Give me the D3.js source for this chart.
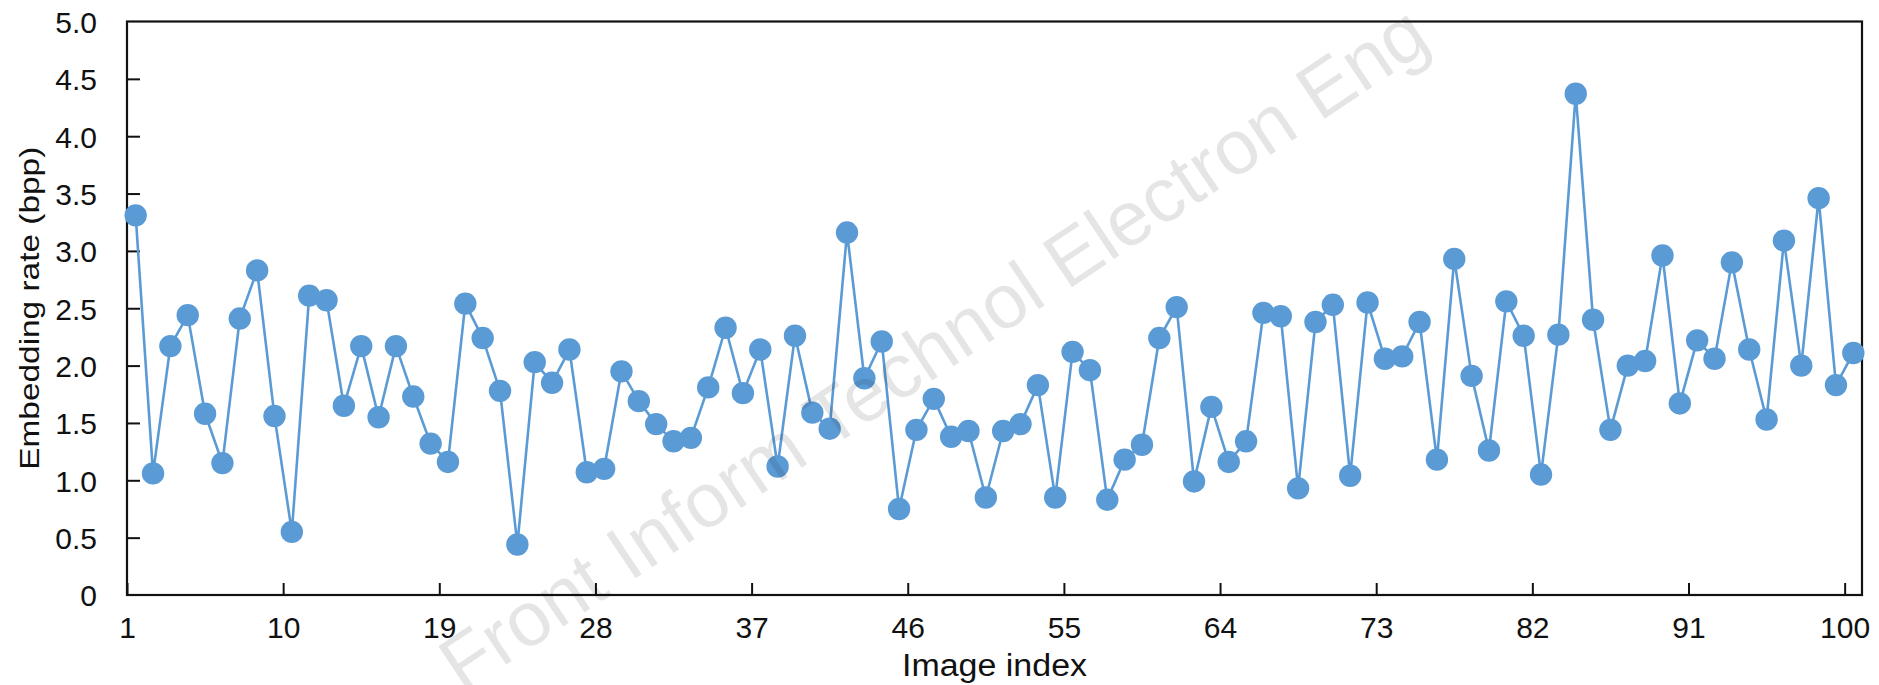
<!DOCTYPE html>
<html>
<head>
<meta charset="utf-8">
<script src="https://cdn.jsdelivr.net/npm/d3@7"></script>
<style>
  html, body { margin: 0; padding: 0; background: #fff; }
  svg { display: block; }
  text { font-family: "Liberation Sans", Arial, sans-serif; fill: #111; }
</style>
</head>
<body>
<svg id="chart" width="1879" height="685"></svg>
<script>
// ---- data ----
const imageIndex = d3.range(1, 101);
const embeddingRate = [
  3.31,1.06,2.17,2.44,1.58,1.15,2.41,2.83,1.56,0.55,
  2.61,2.57,1.65,2.17,1.55,2.17,1.73,1.32,1.16,2.54,
  2.24,1.78,0.44,2.03,1.85,2.14,1.07,1.10,1.95,1.69,
  1.49,1.34,1.37,1.81,2.33,1.76,2.14,1.12,2.26,1.59,
  1.45,3.16,1.89,2.21,0.75,1.44,1.71,1.38,1.43,0.85,
  1.43,1.49,1.83,0.85,2.12,1.96,0.83,1.18,1.31,2.24,
  2.51,0.99,1.64,1.16,1.34,2.46,2.43,0.93,2.38,2.53,
  1.04,2.55,2.06,2.08,2.38,1.18,2.93,1.91,1.26,2.56,
  2.26,1.05,2.27,4.37,2.40,1.44,2.00,2.04,2.96,1.67,
  2.22,2.06,2.90,2.14,1.53,3.09,2.00,3.46,1.83,2.11
];
const xTickValues = [1, 10, 19, 28, 37, 46, 55, 64, 73, 82, 91, 100];
const yTickValues = [0, 0.5, 1.0, 1.5, 2.0, 2.5, 3.0, 3.5, 4.0, 4.5, 5.0];
const xTitle = "Image index";
const yTitle = "Embedding rate (bpp)";
const watermark = "Front Inform Technol Electron Eng";

// ---- layout ----
const L = 127, R = 1862, T = 21.5, B = 595;
const color = "#5b9bd5";
const svg = d3.select("#chart");
svg.append("rect").attr("width", 1879).attr("height", 685).attr("fill", "#fff");

const x = d3.scaleLinear().domain([1, 101]).range([L, R]);
const y = d3.scaleLinear().domain([0, 5]).range([B, T]);
// points sit in the middle of each index slot
const px = i => x(i + 0.5);

// y axis (ticks inward)
const yAxis = d3.axisLeft(y).tickValues(yTickValues)
  .tickFormat(d => d === 0 ? "0" : d3.format(".1f")(d))
  .tickSizeInner(-13).tickSizeOuter(0).tickPadding(30);
const gy = svg.append("g").attr("transform", `translate(${L},0)`).call(yAxis);
gy.select(".domain").remove();
gy.selectAll(".tick line").attr("stroke", "#111").attr("stroke-width", 2)
  .attr("opacity", d => (d === 0 || d === 5) ? 0 : 1);
gy.selectAll(".tick text").attr("font-size", 30).attr("fill", "#111")
  .attr("font-family", '"Liberation Sans", Arial, sans-serif').attr("dy", "0.36em");

// x axis (ticks inward)
const xAxis = d3.axisBottom(x).tickValues(xTickValues)
  .tickSizeInner(-12).tickSizeOuter(0).tickPadding(28);
const gx = svg.append("g").attr("transform", `translate(0,${B})`).call(xAxis);
gx.select(".domain").remove();
gx.selectAll(".tick line").attr("stroke", "#111").attr("stroke-width", 2);
gx.selectAll(".tick text").attr("font-size", 30).attr("fill", "#111")
  .attr("font-family", '"Liberation Sans", Arial, sans-serif').attr("dy", "0.5em");

// frame
svg.append("rect").attr("x", L).attr("y", T).attr("width", R - L).attr("height", B - T)
  .attr("fill", "none").attr("stroke", "#111").attr("stroke-width", 2.2);

// line + markers
const line = d3.line().x((d, i) => px(imageIndex[i])).y(d => y(d));
svg.append("path").datum(embeddingRate).attr("d", line)
  .attr("fill", "none").attr("stroke", color).attr("stroke-width", 2.6)
  .attr("stroke-linejoin", "round");
svg.append("g").selectAll("circle").data(embeddingRate).join("circle")
  .attr("cx", (d, i) => px(imageIndex[i])).attr("cy", d => y(d))
  .attr("r", 11.2).attr("fill", color);

// titles
svg.append("text").attr("x", (L + R) / 2).attr("y", 676)
  .attr("text-anchor", "middle").attr("font-size", 31)
  .attr("textLength", 185).attr("lengthAdjust", "spacingAndGlyphs")
  .text(xTitle);
svg.append("text").attr("transform", `translate(39,${(T + B) / 2}) rotate(-90)`)
  .attr("text-anchor", "middle").attr("font-size", 28)
  .attr("textLength", 323).attr("lengthAdjust", "spacingAndGlyphs")
  .text(yTitle);

// watermark
svg.append("text").attr("transform", "translate(948,370) rotate(-33.7)")
  .attr("text-anchor", "middle").attr("font-size", 77)
  .style("fill", "#000").attr("fill-opacity", 0.1)
  .text(watermark);
</script>
</body>
</html>
